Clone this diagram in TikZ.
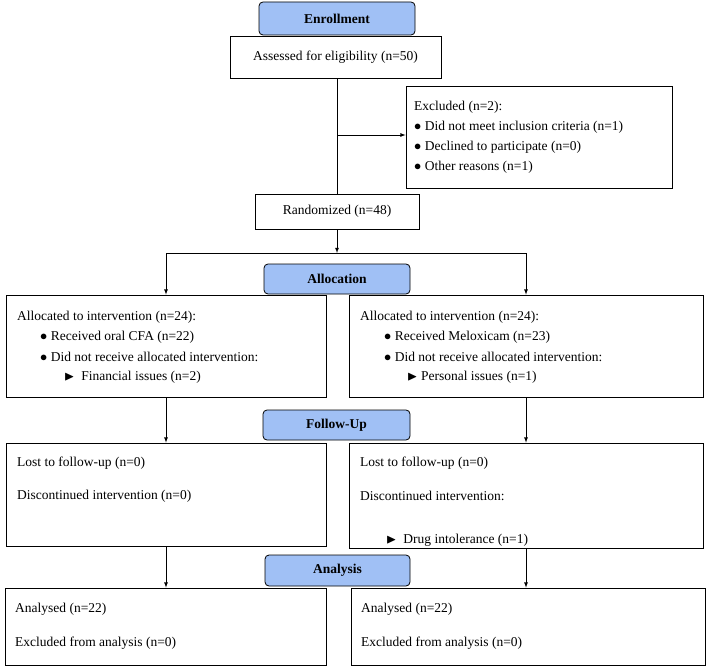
\documentclass[tikz,border=0pt]{standalone}
\usepackage{fontspec}
\setmainfont{Liberation Serif}
\usepackage{amssymb}
\usetikzlibrary{positioning}
\definecolor{hdrblue}{RGB}{160,192,245}

\begin{document}
\begin{tikzpicture}[x=1pt,y=-1pt,font=\fontsize{13.5}{16}\selectfont,
   box/.style={draw,thick,rectangle,inner sep=0pt},
   hdr/.style={draw,thick,rounded corners=4pt,fill=hdrblue,inner sep=0pt,font=\fontsize{13.5}{16}\selectfont\bfseries},
   txt/.style={anchor=west,inner sep=0pt},
   arr/.style={->,>=latex,thick}]
   \useasboundingbox (0,0) rectangle (706,668);
   % headers
   \node[hdr,minimum width=156,minimum height=33] (enrol) at (337,18.5) {Enrollment};
   \node[hdr,minimum width=146,minimum height=30] (alloc) at (337,279) {Allocation};
   \node[hdr,minimum width=147,minimum height=30] (follow) at (336.5,425) {Follow-Up};
   \node[hdr,minimum width=145,minimum height=31] (anal) at (337.5,570.5) {Analysis};
   % boxes
   \node[box,minimum width=211,minimum height=42] (assess) at (335.5,57) {Assessed for eligibility (n=50)};
   \node[box,minimum width=266,minimum height=102] (excl) at (539,137) {};
   \node[box,minimum width=164,minimum height=35] (rand) at (337,211.5) {Randomized (n=48)};
   \node[box,minimum width=320,minimum height=102] (allocL) at (166,346) {};
   \node[box,minimum width=354,minimum height=102] (allocR) at (526,346) {};
   \node[box,minimum width=320,minimum height=103] (followL) at (166,494.5) {};
   \node[box,minimum width=354,minimum height=105] (followR) at (526,495.5) {};
   \node[box,minimum width=321,minimum height=77] (analL) at (165.5,626.5) {};
   \node[box,minimum width=354,minimum height=77] (analR) at (528,626.5) {};
   % texts
   \node[txt] (exT) at (414,107) {Excluded (n=2):};
   \node[txt] (exA) at (414,127) {$\bullet$ Did not meet inclusion criteria (n=1)};
   \node[txt] (exB) at (414,147) {$\bullet$ Declined to participate (n=0)};
   \node[txt] (exC) at (414,167) {$\bullet$ Other reasons (n=1)};
   \node[txt] (alT) at (17,317) {Allocated to intervention (n=24):};
   \node[txt] (alA) at (40,337) {$\bullet$ Received oral CFA (n=22)};
   \node[txt] (alB) at (40,357) {$\bullet$ Did not receive allocated intervention:};
   \node[txt] (alC) at (64,377) {$\blacktriangleright$\ \ Financial issues (n=2)};
   \node[txt] (arT) at (360,317) {Allocated to intervention (n=24):};
   \node[txt] (arA) at (384,337) {$\bullet$ Received Meloxicam (n=23)};
   \node[txt] (arB) at (384,357) {$\bullet$ Did not receive allocated intervention:};
   \node[txt] (arC) at (407,377) {$\blacktriangleright$ Personal issues (n=1)};
   \node[txt] (flA) at (17,463) {Lost to follow-up (n=0)};
   \node[txt] (flB) at (17,496) {Discontinued intervention (n=0)};
   \node[txt] (frA) at (360,463) {Lost to follow-up (n=0)};
   \node[txt] (frB) at (360,496) {Discontinued intervention:};
   \node[txt] (frC) at (386,540) {$\blacktriangleright$\ \ Drug intolerance (n=1)};
   \node[txt] (nlA) at (15,609) {Analysed (n=22)};
   \node[txt] (nlB) at (15,643) {Excluded from analysis (n=0)};
   \node[txt] (nrA) at (361,609) {Analysed (n=22)};
   \node[txt] (nrB) at (361,643) {Excluded from analysis (n=0)};
   % connectors
   \coordinate (branch) at (337,135);
   \coordinate (split) at (337,253);
   \draw[thick] (assess.south -| branch) -- (rand.north -| branch);
   \draw[arr] (branch) -- (branch -| excl.west);
   \draw[arr] (rand.south) -- (split);
   \draw[arr] (split) -| (allocL.north);
   \draw[arr] (split) -| (allocR.north);
   \draw[arr] (allocL.south) -- (followL.north);
   \draw[arr] (allocR.south) -- (followR.north);
   \draw[arr] (followL.south) -- (followL.south |- analL.north);
   \draw[arr] (followR.south) -- (followR.south |- analR.north);
\end{tikzpicture}
\end{document}
